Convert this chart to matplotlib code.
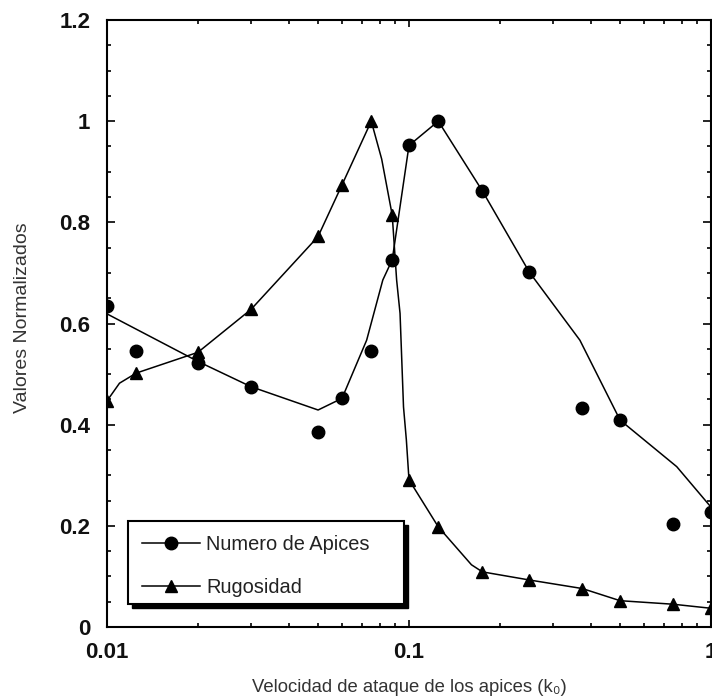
import matplotlib
matplotlib.use("Agg")
import matplotlib.pyplot as plt
from matplotlib.lines import Line2D
from matplotlib.patches import Rectangle
from matplotlib.ticker import FixedLocator, MultipleLocator, LogLocator, NullFormatter, FuncFormatter

plt.rcParams['font.family'] = ['Liberation Sans', 'DejaVu Sans']

# ---- data ----
k = [0.01, 0.0125, 0.02, 0.03, 0.05, 0.06, 0.075, 0.088, 0.1, 0.125, 0.175, 0.25, 0.375, 0.5, 0.75, 1.0]
apices = [0.635, 0.546, 0.522, 0.475, 0.386, 0.452, 0.546, 0.726, 0.952, 1.0, 0.862, 0.702, 0.432, 0.409, 0.203, 0.227]
rugosidad = [0.447, 0.502, 0.543, 0.628, 0.772, 0.874, 1.0, 0.814, 0.291, 0.198, 0.109, 0.093, 0.076, 0.052, 0.045, 0.037]

# fitted curves as drawn in the reference
apices_curve_k = [0.01, 0.02, 0.03, 0.05, 0.06, 0.0724, 0.0819, 0.088, 0.1, 0.125, 0.175, 0.25, 0.368, 0.5, 0.77, 1.0]
apices_curve_y = [0.619, 0.525, 0.475, 0.429, 0.452, 0.567, 0.686, 0.726, 0.952, 1.0, 0.862, 0.702, 0.567, 0.409, 0.317, 0.237]

rug_curve_k = [0.01, 0.011, 0.0125, 0.02, 0.03, 0.05, 0.06, 0.075, 0.0812, 0.088, 0.091, 0.0934, 0.0959, 0.098, 0.1,
               0.125, 0.161, 0.175, 0.25, 0.375, 0.5, 0.75, 1.0]
rug_curve_y = [0.447, 0.482, 0.502, 0.543, 0.628, 0.772, 0.874, 1.0, 0.925, 0.814, 0.686, 0.62, 0.435, 0.37, 0.291,
               0.198, 0.123, 0.109, 0.093, 0.076, 0.052, 0.045, 0.037]

x_ticks = [0.01, 0.1, 1]
x_ticklabels = ["0.01", "0.1", "1"]
y_ticks = [0, 0.2, 0.4, 0.6, 0.8, 1.0, 1.2]

series_names = ["Numero de Apices", "Rugosidad"]
xlabel = "Velocidad de ataque de los apices (k\u2080)"
ylabel = "Valores Normalizados"

# ---- figure ----
fig = plt.figure(figsize=(7.12, 6.99), dpi=100)
ax = fig.add_axes([107/712, 1 - 627/699, 604/712, 607/699])

ax.plot(apices_curve_k, apices_curve_y, color='black', lw=1.1, zorder=2)
ax.plot(rug_curve_k, rug_curve_y, color='black', lw=1.1, zorder=2)
ax.plot(k, apices, linestyle='none', marker='o', ms=9, color='black', zorder=3)
ax.plot(k, rugosidad, linestyle='none', marker='^', ms=9, color='black', zorder=3)

ax.set_xscale('log')
ax.set_xlim(0.01, 1)
ax.set_ylim(0, 1.2)

ax.xaxis.set_major_locator(FixedLocator(x_ticks))
ax.set_xticklabels(x_ticklabels)
ax.xaxis.set_minor_locator(LogLocator(base=10, subs=range(2, 10)))
ax.xaxis.set_minor_formatter(NullFormatter())
ax.yaxis.set_major_locator(FixedLocator(y_ticks))
ax.yaxis.set_major_formatter(FuncFormatter(lambda v, p: f"{v:g}"))
ax.yaxis.set_minor_locator(MultipleLocator(0.05))

ax.tick_params(which='both', direction='in', top=True, right=True, width=1.2, color='black')
ax.tick_params(axis='y', which='major', length=6, pad=12)
ax.tick_params(axis='y', which='minor', length=3)
ax.tick_params(axis='x', which='major', length=5, pad=11)
ax.tick_params(axis='x', which='minor', length=3)
for lab in ax.get_xticklabels() + ax.get_yticklabels():
    lab.set_fontweight('bold')
    lab.set_fontsize(16)
    lab.set_color('#111111')
for s in ax.spines.values():
    s.set_linewidth(1.5)

ax.set_xlabel(xlabel, fontsize=13.3, labelpad=11, color='#333333')
ax.set_ylabel(ylabel, fontsize=14, color='#333333')
ax.yaxis.set_label_coords(-0.126, 0.51)

# legend frame with black shadow
x0, x1 = (128 - 107) / 604, (404 - 107) / 604
y0, y1 = (627 - 604) / 607, (627 - 521) / 607
sh = 4 / 604
ax.add_patch(Rectangle((x0 + sh, y0 - 4 / 607), x1 - x0, y1 - y0, transform=ax.transAxes,
                       facecolor='black', edgecolor='black', zorder=4))
ax.add_patch(Rectangle((x0, y0), x1 - x0, y1 - y0, transform=ax.transAxes,
                       facecolor='white', edgecolor='black', lw=1.5, zorder=5))

handles = [Line2D([], [], color='black', lw=1.1, marker='o', ms=9),
           Line2D([], [], color='black', lw=1.1, marker='^', ms=9)]
leg = ax.legend(handles, series_names, loc='upper left', bbox_to_anchor=(x0, y1),
                frameon=False, fontsize=14.4, handlelength=2.9, handletextpad=0.32,
                borderaxespad=0, borderpad=0.68, labelspacing=1.22)
for t in leg.get_texts():
    t.set_color('#222222')
leg.set_zorder(6)

fig.savefig("out.png", dpi=100)
